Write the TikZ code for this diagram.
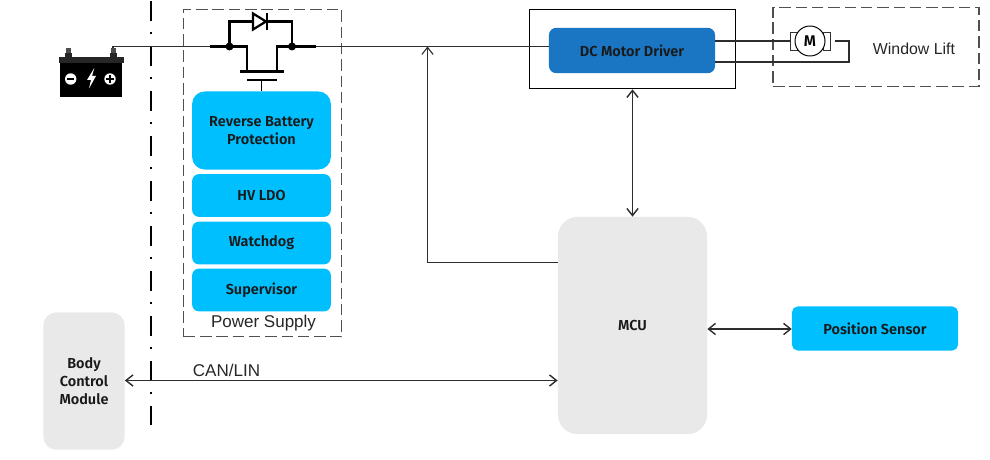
\documentclass[tikz,border=0pt]{standalone}
\usepackage{fontspec}
\setmainfont{Liberation Sans}
\newfontfamily\blockfont{Fira Sans SemiBold}
\usetikzlibrary{positioning,shapes,arrows,arrows.meta}

\definecolor{cyanblock}{RGB}{0,191,255}
\definecolor{driverblue}{RGB}{26,117,194}
\definecolor{greyblock}{RGB}{233,233,233}
\definecolor{wirecol}{RGB}{45,45,45}
\definecolor{dashcol}{RGB}{80,80,80}

\tikzset{
	block/.style={rectangle, rounded corners=9pt, inner sep=0pt, align=center, font=\blockfont\fontsize{10.3}{12.7}\selectfont, text=black!90},
	cyanbox/.style={block, fill=cyanblock},
	greybox/.style={block, fill=greyblock},
	wire/.style={draw=wirecol, line width=0.8pt},
	link/.style={wire, line width=1pt, {Straight Barb[length=5pt,width=8pt]}-{Straight Barb[length=5pt,width=8pt]}},
	feed/.style={wire, -{Straight Barb[length=5pt,width=8pt]}},
	fet/.style={draw=black, line width=1.6pt},
	dashedbox/.style={draw=dashcol, line width=0.9pt, dash pattern=on 8.2pt off 3.4pt},
	caption/.style={font=\fontsize{12.1}{14}\selectfont, text=black!85, inner sep=0pt}
}

\begin{document}
\begin{tikzpicture}[x=0.025cm, y=-0.025cm]
	\useasboundingbox (0,0) rectangle (990,459);

	% supply boundary
	\draw[line width=1.7pt, dash pattern=on 14.2pt off 7.65pt on 1.6pt off 8.5pt] (151,1.5) -- (151,425);

	% outer frames
	\node[dashedbox, minimum width=3.95cm, minimum height=8.19cm] (PS) at (262.7,173) {};
	\node[draw=black, line width=0.7pt, minimum width=5.16cm, minimum height=1.99cm] (DF) at (632.5,49) {};
	\node[dashedbox, minimum width=5.15cm, minimum height=1.97cm] (WF) at (876,47) {};

	% power supply blocks
	\node[cyanbox, minimum width=3.47cm, minimum height=1.95cm] (RB) at (261.5,130.5) {Reverse Battery\\Protection};
	\node[cyanbox, rounded corners=5pt, minimum width=3.47cm, minimum height=1.07cm] (LDO) at (261.5,195.5) {HV LDO};
	\node[cyanbox, rounded corners=5pt, minimum width=3.47cm, minimum height=1.07cm] (WD) at (261.5,243) {Watchdog};
	\node[cyanbox, rounded corners=5pt, minimum width=3.47cm, minimum height=1.07cm] (SV) at (261.5,290) {Supervisor};
	\node[caption] (PSL) at (263.5,323) {Power Supply};

	% other blocks
	\node[block, fill=driverblue, rounded corners=5pt, minimum width=4.15cm, minimum height=1.13cm] (DRV) at (632,50.5) {DC Motor Driver};
	\node[greybox, rounded corners=14pt, minimum width=3.73cm, minimum height=5.43cm] (MCU) at (632.5,325.5) {MCU};
	\node[cyanbox, rounded corners=4pt, minimum width=4.15cm, minimum height=1.1cm] (POS) at (875,328.5) {Position Sensor};
	\node[greybox, minimum width=2.03cm, minimum height=3.43cm] (BCM) at (84,381) {Body\\Control\\Module};
	\node[caption, font=\fontsize{11.3}{13}\selectfont] (WL) at (914,49) {Window Lift};
	\node[caption] (CL) at (226.5,370.5) {CAN/LIN};

	% battery
	\fill[black] (60,61) rectangle (122,97);
	\fill[black!85] (58.5,57) rectangle (123.5,63);
	\fill[black!85] (64.5,53) rectangle (71.5,57);
	\fill[black!85] (109.5,53) rectangle (116.5,57);
	\fill[black!70] (65.5,48) rectangle (70.5,53);
	\fill[black!70] (110.5,48) rectangle (115.5,53);
	\fill[white] (70.7,79) circle (5.7);
	\fill[white] (110,79) circle (5.7);
	\fill[black] (67,78) rectangle (74.4,80);
	\fill[black] (106.3,78) rectangle (113.7,80);
	\fill[black] (109,75.3) rectangle (111,82.7);
	\fill[white] (94.3,68) -- (87,80) -- (91,80) -- (89,88.5) -- (96,76) -- (92,76) -- cycle;

	% reverse protection switch
	\coordinate (BT) at (113,48);
	\coordinate (SL) at (229.5,46.5);
	\coordinate (SR) at (292,46.5);
	\coordinate (JN) at (427.5,46.5);
	\draw[fet] (210,46.5) -- (SL) -- (247,46.5) -- (247,71) (277,71) -- (277,46.5) -- (SR) -- (316,46.5);
	\draw[fet] (SL) -- (229.5,21.5) -- (253,21.5) (267,21.5) -- (292,21.5) -- (SR);
	\draw[fet] (253,13.5) -- (253,29.5) -- (266,21.5) -- cycle;
	\draw[fet] (267,13) -- (267,30);
	\draw[fet] (240,71.5) -- (284,71.5);
	\draw[fet] (247,80) -- (277,80);
	\draw[fet, line width=1.2pt] (261.5,80) -- (RB.north -| 261.5,0);
	\fill (SL) circle (4);
	\fill (SR) circle (4);

	% motor
	\draw[draw=black!80, line width=0.6pt] (790,32) rectangle (797,50) (823,32) rectangle (830,50);
	\node[circle, draw=black, line width=0.7pt, minimum size=0.75cm, inner sep=0pt, fill=white, font=\blockfont\fontsize{11}{12}\selectfont] (M) at (810,41) {M};

	% connections
	\draw[wire] (BT) -- (113,46.5) -- (210,46.5);
	\draw[wire] (316,46.5) -- (JN) -- (DRV.west |- 0,46.5);
	\draw[wire] (DRV.east |- 0,41) -- (790,41);
	\draw[wire] (835,41) -- (849,41) -- (849,62) -- (DRV.east |- 0,62);
	\draw[feed] (MCU.west |- 0,262.5) -- (427.5,262.5) -- (JN);
	\draw[link] (DF.south -| 632.5,0) -- (MCU.north -| 632.5,0);
	\draw[link] (MCU.east |- 0,329) -- (POS.west |- 0,329);
	\draw[link] (BCM.east |- 0,380.5) -- (MCU.west |- 0,380.5);
\end{tikzpicture}
\end{document}
